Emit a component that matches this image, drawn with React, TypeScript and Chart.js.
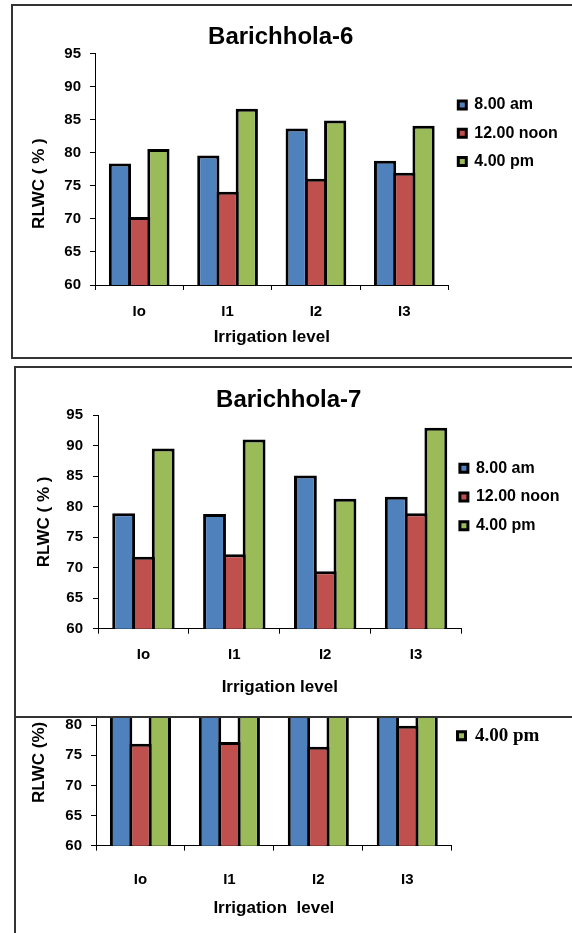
import React, { useEffect, useRef } from 'react';
import { Chart, registerables } from 'chart.js';

Chart.register(...registerables);

// ---------- data ----------
const categories = ['Io', 'I1', 'I2', 'I3'];
const seriesLabels = ['8.00 am', '12.00 noon', '4.00 pm'];
const seriesColors = ['#4F81BD', '#C0504D', '#9BBB59'];

const yMin = 60;
const yStep = 5;

// Barichhola-6
const b6Am = [78.4, 79.6, 83.7, 78.8];
const b6Noon = [70.3, 74.1, 76.1, 77.0];
const b6Pm = [80.6, 86.7, 84.9, 84.1];

// Barichhola-7
const b7Am = [78.9, 78.8, 85.1, 81.6];
const b7Noon = [71.8, 72.2, 69.4, 78.9];
const b7Pm = [89.5, 91.0, 81.3, 92.9];

// third (partly hidden) chart: tops of blue/green bars are covered
const b8Am = [86.5, 87.2, 88.0, 86.0];
const b8Noon = [76.9, 77.2, 76.4, 79.9];
const b8Pm = [88.6, 89.3, 87.8, 89.6];

const SANS = "'Liberation Sans', Arial, Helvetica, sans-serif";
const SERIF = "'Liberation Serif', 'Times New Roman', serif";

const legendPlacer = {
  id: 'legendPlacer',
  beforeDraw(chart: any, _args: any, opts: any) {
    const lg = chart.legend;
    if (!lg || opts == null || opts.left == null) return;
    lg.left = opts.left;
    lg.right = chart.width;
    lg.top = opts.top;
    lg.bottom = chart.height;
  },
};

type PanelCfg = {
  divLeft: number;
  divTop: number;
  divH: number;
  canvasW: number;
  canvasH: number;
  title: string | null;
  titlePadTop: number;
  titlePadBottom: number;
  padTop: number;
  padRight: number;
  yMax: number;
  yWidth: number;
  yTickPad: number;
  yTitle: string;
  yTitlePad: number;
  xHeight: number;
  xTickPad: number;
  xTitle: string;
  xTitlePadBottom: number;
  legendLeft: number;
  legendTop: number;
  legendPad: number;
  legendFont: any;
  series: number[][];
};

function Panel({ cfg }: { cfg: PanelCfg }) {
  const ref = useRef<HTMLCanvasElement | null>(null);
  useEffect(() => {
    if (!ref.current) return;
    const c = cfg;
    const chart = new Chart(ref.current, {
      type: 'bar',
      data: {
        labels: categories,
        datasets: c.series.map((d, i) => ({
          label: seriesLabels[i],
          data: d,
          backgroundColor: seriesColors[i],
          borderColor: '#000',
          borderWidth: 3,
          categoryPercentage: 0.653,
          barPercentage: 1.156,
        })),
      },
      options: {
        responsive: false,
        animation: false,
        events: [],
        devicePixelRatio: 1,
        layout: { padding: { top: c.padTop, right: c.padRight, bottom: 0, left: 0 } },
        plugins: {
          title: {
            display: !!c.title,
            text: c.title || '',
            color: '#000',
            font: { family: SANS, size: 24, weight: 'bold' },
            padding: { top: c.titlePadTop, bottom: c.titlePadBottom },
          },
          legend: {
            display: true,
            position: 'right',
            align: 'start',
            maxWidth: 100,
            labels: {
              boxWidth: 8,
              boxHeight: 8,
              padding: c.legendPad,
              color: '#000',
              font: c.legendFont,
            },
          },
          tooltip: { enabled: false },
          legendPlacer: { left: c.legendLeft, top: c.legendTop },
        } as any,
        scales: {
          x: {
            offset: true,
            grid: {
              display: true,
              drawOnChartArea: false,
              drawTicks: true,
              tickLength: 5,
              color: '#000',
              offset: true,
            },
            border: { display: true, color: '#000', width: 1 },
            ticks: {
              color: '#000',
              font: { family: SANS, size: 15, weight: 'bold' },
              padding: c.xTickPad,
              maxRotation: 0,
            },
            title: {
              display: true,
              text: c.xTitle,
              color: '#000',
              font: { family: SANS, size: 17, weight: 'bold' },
              padding: { top: 0, bottom: c.xTitlePadBottom },
            },
            afterFit: (s: any) => {
              s.height = c.xHeight;
            },
          },
          y: {
            min: yMin,
            max: c.yMax,
            grid: {
              display: true,
              drawOnChartArea: false,
              drawTicks: true,
              tickLength: 5,
              color: '#000',
            },
            border: { display: true, color: '#000', width: 1 },
            ticks: {
              stepSize: yStep,
              color: '#000',
              font: { family: SANS, size: 15, weight: 'bold' },
              padding: c.yTickPad,
            },
            title: {
              display: true,
              text: c.yTitle,
              color: '#000',
              font: { family: SANS, size: 17, weight: 'bold' },
              padding: { top: c.yTitlePad, bottom: 0 },
            },
            afterFit: (s: any) => {
              s.width = c.yWidth;
            },
          },
        } as any,
      },
      plugins: [legendPlacer],
    } as any);
    return () => chart.destroy();
  }, [cfg]);

  return (
    <div
      style={{
        position: 'absolute',
        left: cfg.divLeft,
        top: cfg.divTop,
        width: 620,
        height: cfg.divH,
        border: '2px solid #333',
        background: '#fff',
      }}
    >
      <canvas
        ref={ref}
        width={cfg.canvasW}
        height={cfg.canvasH}
        style={{ display: 'block', width: cfg.canvasW, height: cfg.canvasH }}
      />
    </div>
  );
}

const legendSans = { family: SANS, size: 16, weight: 'bold' };
const legendSerif = { family: SERIF, size: 19, weight: 'bold' };

const panel1: PanelCfg = {
  divLeft: 11,
  divTop: 4,
  divH: 351,
  canvasW: 559,
  canvasH: 351,
  title: 'Barichhola-6',
  titlePadTop: 17,
  titlePadBottom: 2,
  padTop: 0,
  padRight: 23.5,
  yMax: 95,
  yWidth: 82,
  yTickPad: 9,
  yTitle: 'RLWC ( % )      ',
  yTitlePad: 16,
  xHeight: 72,
  xTickPad: 12.7,
  xTitle: 'Irrigation level',
  xTitlePadBottom: 9,
  legendLeft: 433,
  legendTop: 78.7,
  legendPad: 12.3,
  legendFont: legendSans,
  series: [b6Am, b6Noon, b6Pm],
};

const panel2: PanelCfg = {
  divLeft: 14,
  divTop: 366,
  divH: 348,
  canvasW: 556,
  canvasH: 348,
  title: 'Barichhola-7',
  titlePadTop: 18,
  titlePadBottom: 0.2,
  padTop: 0,
  padRight: 10.5,
  yMax: 95,
  yWidth: 82,
  yTickPad: 10,
  yTitle: 'RLWC ( % )',
  yTitlePad: 18.5,
  xHeight: 87.3,
  xTickPad: 12.3,
  xTitle: 'Irrigation level',
  xTitlePadBottom: 18.3,
  legendLeft: 431.2,
  legendTop: 79.6,
  legendPad: 12.7,
  legendFont: legendSans,
  series: [b7Am, b7Noon, b7Pm],
};

const panel3: PanelCfg = {
  divLeft: 14,
  divTop: 600,
  divH: 400,
  canvasW: 556,
  canvasH: 340,
  title: null,
  titlePadTop: 0,
  titlePadBottom: 0,
  padTop: 62.8,
  padRight: 20.3,
  yMax: 90,
  yWidth: 80,
  yTickPad: 9,
  yTitle: 'RLWC (%)   ',
  yTitlePad: 13,
  xHeight: 96.3,
  xTickPad: 20.3,
  xTitle: 'Irrigation  level',
  xTitlePadBottom: 23.3,
  legendLeft: 429.5,
  legendTop: 50.3,
  legendPad: 12,
  legendFont: legendSerif,
  series: [b8Am, b8Noon, b8Pm],
};

export default function App() {
  return (
    <div
      style={{
        position: 'absolute',
        left: 0,
        top: 0,
        width: 572,
        height: 933,
        overflow: 'hidden',
        background: '#fff',
      }}
    >
      <Panel cfg={panel3} />
      <Panel cfg={panel1} />
      <Panel cfg={panel2} />
    </div>
  );
}
